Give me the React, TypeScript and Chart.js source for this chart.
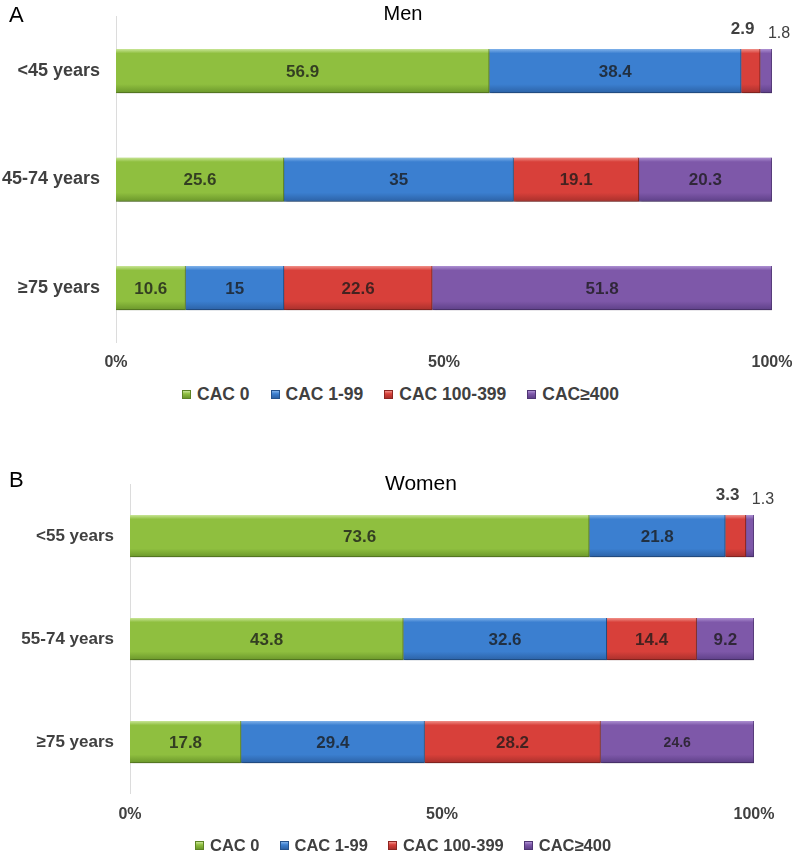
import React, { useEffect, useRef } from 'react';
import { Chart, registerables } from 'chart.js';

Chart.register(...registerables);
Chart.defaults.font.family = "'Liberation Sans', Arial, sans-serif";

// ---------- data ----------
const seriesLabels = ['CAC 0', 'CAC 1-99', 'CAC 100-399', 'CAC≥400'];
const xTickValues = [0, 50, 100];

const menCategories = ['<45 years', '45-74 years', '≥75 years'];
const menCac0 = [56.9, 25.6, 10.6];
const menCac1to99 = [38.4, 35, 15];
const menCac100to399 = [2.9, 19.1, 22.6];
const menCac400 = [1.8, 20.3, 51.8];

const womenCategories = ['<55 years', '55-74 years', '≥75 years'];
const womenCac0 = [73.6, 43.8, 17.8];
const womenCac1to99 = [21.8, 32.6, 29.4];
const womenCac100to399 = [3.3, 14.4, 28.2];
const womenCac400 = [1.3, 9.2, 24.6];

// ---------- style ----------
const palette = [
  { base: '#8fbf3f', light: '#c8e596', dark: '#6b972b', edge: '#5d8424' },
  { base: '#3b7fd0', light: '#80b2ea', dark: '#2c62a6', edge: '#24538e' },
  { base: '#d8403a', light: '#f09089', dark: '#a9302c', edge: '#8e2622' },
  { base: '#7e58a9', light: '#ad90d2', dark: '#5e4088', edge: '#4f3574' },
];

type PanelStyle = {
  top: number;
  height: number;
  padding: { top: number; left: number; right: number; bottom: number };
  yWidth: number;
  xHeight: number;
  barThickness: number;
  yFont: number;
  legendFont: number;
  legendGap: number;
  legendLeft: number;
  legendCenterY: number;
  smallLabel?: [number, number];
};

const panelA: PanelStyle = {
  top: 0,
  height: 380,
  padding: { top: 16.75, left: 0, right: 24, bottom: 3.75 },
  yWidth: 116,
  xHeight: 34,
  barThickness: 44,
  yFont: 18,
  legendFont: 17.5,
  legendGap: 21,
  legendLeft: 182,
  legendCenterY: 394,
};

const panelB: PanelStyle = {
  top: 420,
  height: 433,
  padding: { top: 64.5, left: 0, right: 42, bottom: 25.5 },
  yWidth: 130,
  xHeight: 34,
  barThickness: 42,
  yFont: 17,
  legendFont: 16.5,
  legendGap: 20,
  legendLeft: 195,
  legendCenterY: 845,
  smallLabel: [3, 2],
};

const shadowPlugin = {
  id: 'barShadow',
  beforeDatasetsDraw(chart: any) {
    const c = chart.ctx;
    c.save();
    c.shadowColor = 'rgba(0,0,0,0.28)';
    c.shadowBlur = 3;
    c.shadowOffsetX = 1;
    c.shadowOffsetY = 2;
  },
  afterDatasetsDraw(chart: any) {
    chart.ctx.restore();
  },
};

const labelsPlugin = {
  id: 'segLabels',
  afterDraw(chart: any, _args: any, opts: any) {
    const c = chart.ctx;
    const small = opts.smallLabel;
    chart.data.datasets.forEach((ds: any, i: number) => {
      const meta = chart.getDatasetMeta(i);
      meta.data.forEach((bar: any, j: number) => {
        const v = ds.data[j];
        const p = bar.getProps(['x', 'y', 'base', 'height'], true);
        const cx = (p.x + p.base) / 2;
        c.save();
        c.textAlign = 'center';
        c.textBaseline = 'middle';
        if (v < 5) {
          const topEdge = p.y - p.height / 2;
          c.fillStyle = '#404040';
          if (i === 3) {
            c.font = "16px 'Liberation Sans', Arial, sans-serif";
            c.fillText(String(v), cx + 13, topEdge - 15.5);
          } else {
            c.font = "bold 17px 'Liberation Sans', Arial, sans-serif";
            c.fillText(String(v), cx - 8, topEdge - 20);
          }
        } else {
          c.fillStyle = 'rgba(25,25,25,0.78)';
          const isSmall = small && small[0] === i && small[1] === j;
          c.font = isSmall
            ? "bold 14px 'Liberation Sans', Arial, sans-serif"
            : "bold 17px 'Liberation Sans', Arial, sans-serif";
          c.fillText(String(v), cx, p.y + 1);
        }
        c.restore();
      });
    });
  },
};

function makeConfig(categories: string[], series: number[][], st: PanelStyle): any {
  const datasets = series.map((values, i) => {
    const col = palette[i];
    return {
      label: seriesLabels[i],
      data: values,
      barThickness: st.barThickness,
      borderSkipped: false,
      borderWidth: { top: 0, left: 0, right: 1, bottom: 1 },
      borderColor: col.edge,
      backgroundColor: (ctx: any) => {
        if (ctx.type !== 'data') return col.base;
        const chart = ctx.chart;
        const ys = chart.scales && chart.scales.y;
        if (!ys || !chart.chartArea) return col.base;
        const yc = ys.getPixelForValue(ctx.dataIndex);
        const t = yc - st.barThickness / 2;
        const b = yc + st.barThickness / 2;
        const g = chart.ctx.createLinearGradient(0, t, 0, b);
        g.addColorStop(0, col.light);
        g.addColorStop(0.1, col.base);
        g.addColorStop(0.8, col.base);
        g.addColorStop(1, col.dark);
        return g;
      },
    };
  });
  return {
    type: 'bar',
    data: { labels: categories, datasets },
    plugins: [shadowPlugin, labelsPlugin],
    options: {
      indexAxis: 'y',
      animation: false,
      responsive: false,
      maintainAspectRatio: false,
      layout: { padding: st.padding },
      scales: {
        x: {
          stacked: true,
          min: 0,
          max: 100,
          afterBuildTicks: (scale: any) => {
            scale.ticks = xTickValues.map((v) => ({ value: v }));
          },
          afterFit: (scale: any) => {
            scale.height = st.xHeight;
            scale.paddingLeft = 0;
            scale.paddingRight = 0;
            scale.paddingTop = 0;
            scale.paddingBottom = 0;
          },
          grid: { display: false, drawTicks: false },
          border: { display: false },
          ticks: {
            padding: 11,
            color: '#404040',
            font: { size: 16, weight: 'bold' },
            callback: (v: any) => v + '%',
            maxRotation: 0,
          },
        },
        y: {
          stacked: true,
          afterFit: (scale: any) => {
            scale.width = st.yWidth;
            scale.paddingLeft = 0;
            scale.paddingRight = 0;
            scale.paddingTop = 0;
            scale.paddingBottom = 0;
          },
          grid: { display: false, drawTicks: false },
          border: { display: true, color: '#dcdcdc', width: 1 },
          ticks: {
            padding: 16,
            color: '#404040',
            font: { size: st.yFont, weight: 'bold' },
          },
        },
      },
      plugins: {
        tooltip: { enabled: false },
        segLabels: { smallLabel: st.smallLabel },
        legend: { display: false },
      },
    },
  };
}

function Legend({ st }: { st: PanelStyle }) {
  return (
    <div
      style={{
        position: 'absolute',
        left: st.legendLeft,
        top: st.legendCenterY - 10,
        height: 20,
        display: 'flex',
        alignItems: 'center',
        gap: st.legendGap,
        fontFamily: "'Liberation Sans', Arial, sans-serif",
        fontWeight: 'bold',
        fontSize: st.legendFont,
        lineHeight: '20px',
        color: '#404040',
        whiteSpace: 'nowrap',
      }}
    >
      {seriesLabels.map((s, i) => (
        <div key={s} style={{ display: 'flex', alignItems: 'center' }}>
          <span
            style={{
              display: 'inline-block',
              width: 9,
              height: 9,
              boxSizing: 'border-box',
              border: `1px solid ${palette[i].edge}`,
              background: `linear-gradient(${palette[i].light}, ${palette[i].base} 40%, ${palette[i].dark})`,
              marginRight: 6,
            }}
          />
          <span>{s}</span>
        </div>
      ))}
    </div>
  );
}

function Panel({ categories, series, st }: { categories: string[]; series: number[][]; st: PanelStyle }) {
  const ref = useRef<HTMLCanvasElement | null>(null);
  useEffect(() => {
    if (!ref.current) return;
    const chart = new Chart(ref.current, makeConfig(categories, series, st));
    return () => chart.destroy();
  }, []);
  return (
    <>
      <canvas
        ref={ref}
        width={796}
        height={st.height}
        style={{ position: 'absolute', left: 0, top: st.top, width: 796, height: st.height }}
      />
      <Legend st={st} />
    </>
  );
}

const textBase: React.CSSProperties = {
  position: 'absolute',
  fontFamily: "'Liberation Sans', Arial, sans-serif",
  color: '#000',
  whiteSpace: 'nowrap',
};

export default function App() {
  return (
    <div
      style={{
        position: 'absolute',
        left: 0,
        top: 0,
        width: 796,
        height: 853,
        overflow: 'hidden',
        background: '#fff',
      }}
    >
      <Panel
        categories={menCategories}
        series={[menCac0, menCac1to99, menCac100to399, menCac400]}
        st={panelA}
      />
      <Panel
        categories={womenCategories}
        series={[womenCac0, womenCac1to99, womenCac100to399, womenCac400]}
        st={panelB}
      />
      <div style={{ ...textBase, left: 9, top: 3.75, fontSize: 22, lineHeight: '22px' }}>A</div>
      <div
        style={{ ...textBase, left: 303, width: 200, textAlign: 'center', top: 3.2, fontSize: 20, lineHeight: '20px' }}
      >
        Men
      </div>
      <div style={{ ...textBase, left: 9, top: 468.8, fontSize: 22, lineHeight: '22px' }}>B</div>
      <div
        style={{ ...textBase, left: 321, width: 200, textAlign: 'center', top: 472.2, fontSize: 21, lineHeight: '21px' }}
      >
        Women
      </div>
    </div>
  );
}
